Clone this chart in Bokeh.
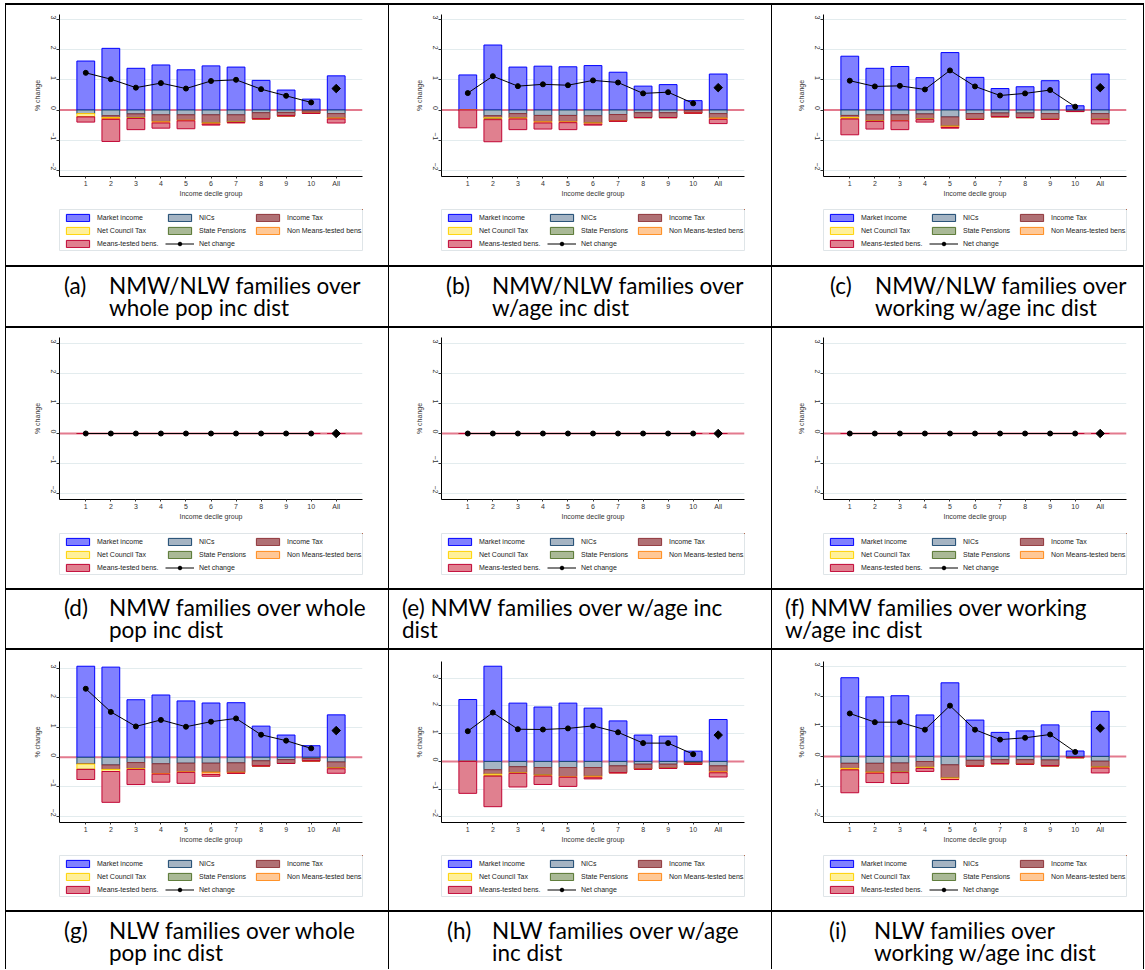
import math
from bokeh.plotting import figure
from bokeh.models import FactorRange, Range1d, FixedTicker, Span, Legend, LegendItem, Div, Spacer
from bokeh.layouts import row, column
from bokeh.embed import file_html
from bokeh.resources import INLINE

# ---------------- data ----------------
deciles = ["1", "2", "3", "4", "5", "6", "7", "8", "9", "10", "All"]
y_ticks = [-2, -1, 0, 1, 2, 3]
series_names = ["Market income", "NICs", "Income Tax", "Net Council Tax",
                "State Pensions", "Non Means-tested bens.", "Means-tested bens."]
net_name = "Net change"

# (a) NMW/NLW families over whole pop inc dist
a_market = [1.62, 2.04, 1.38, 1.49, 1.33, 1.46, 1.42, 0.98, 0.66, 0.36, 1.13]
a_nics = [-0.12, -0.19, -0.13, -0.16, -0.16, -0.16, -0.16, -0.09, -0.08, -0.03, -0.12]
a_itax = [0.0, -0.06, -0.12, -0.22, -0.18, -0.27, -0.24, -0.20, -0.11, -0.08, -0.15]
a_ctax = [-0.11, -0.03, -0.02, -0.01, -0.01, -0.01, 0.0, 0.0, 0.0, 0.0, -0.01]
a_spens = [0.0, 0.0, 0.0, 0.0, 0.0, 0.0, 0.0, 0.0, 0.0, 0.0, 0.0]
a_nonmt = [0.0, -0.03, -0.01, -0.04, -0.01, -0.03, -0.02, 0.0, 0.0, 0.0, -0.02]
a_mt = [-0.17, -0.73, -0.37, -0.17, -0.26, -0.03, 0.0, 0.0, 0.0, 0.0, -0.13]
a_net = [1.23, 1.02, 0.74, 0.89, 0.71, 0.96, 1.00, 0.69, 0.47, 0.25, 0.71]

# (b) NMW/NLW families over w/age inc dist
b_market = [1.16, 2.15, 1.42, 1.45, 1.43, 1.47, 1.25, 0.79, 0.84, 0.31, 1.19]
b_nics = [0.0, -0.19, -0.12, -0.18, -0.18, -0.19, -0.15, -0.09, -0.09, -0.02, -0.12]
b_itax = [0.0, -0.07, -0.14, -0.20, -0.20, -0.24, -0.21, -0.16, -0.16, -0.08, -0.15]
b_ctax = [0.0, -0.04, -0.01, -0.01, -0.01, 0.0, 0.0, 0.0, 0.0, 0.0, -0.01]
b_spens = [0.0, 0.0, 0.0, 0.0, 0.0, 0.0, 0.0, 0.0, 0.0, 0.0, 0.0]
b_nonmt = [0.0, -0.02, -0.03, -0.04, -0.03, -0.04, -0.01, 0.0, 0.0, 0.0, -0.03]
b_mt = [-0.59, -0.73, -0.35, -0.20, -0.23, -0.03, 0.0, 0.0, 0.0, 0.0, -0.14]
b_net = [0.56, 1.12, 0.79, 0.85, 0.82, 0.98, 0.91, 0.55, 0.59, 0.22, 0.74]

# (c) NMW/NLW families over working w/age inc dist
c_market = [1.78, 1.38, 1.44, 1.07, 1.90, 1.08, 0.71, 0.77, 0.97, 0.14, 1.19]
c_nics = [-0.18, -0.16, -0.16, -0.13, -0.23, -0.12, -0.10, -0.10, -0.12, -0.03, -0.12]
c_itax = [-0.07, -0.20, -0.20, -0.17, -0.31, -0.19, -0.12, -0.15, -0.19, -0.02, -0.19]
c_ctax = [-0.05, 0.0, 0.0, -0.01, 0.0, 0.0, 0.0, 0.0, 0.0, 0.0, 0.0]
c_spens = [0.0, 0.0, 0.0, 0.0, 0.0, 0.0, 0.0, 0.0, 0.0, 0.0, 0.0]
c_nonmt = [0.0, -0.02, 0.0, -0.01, -0.04, 0.0, 0.0, 0.0, 0.0, 0.0, -0.01]
c_mt = [-0.52, -0.25, -0.29, -0.08, -0.02, 0.0, 0.0, 0.0, 0.0, 0.0, -0.14]
c_net = [0.97, 0.78, 0.80, 0.68, 1.31, 0.78, 0.48, 0.55, 0.66, 0.11, 0.74]

# (d), (e), (f) NMW families: no change in any component
nmw_zero = [0.0, 0.0, 0.0, 0.0, 0.0, 0.0, 0.0, 0.0, 0.0, 0.0, 0.0]

# (g) NLW families over whole pop inc dist
g_market = [3.07, 3.04, 1.94, 2.10, 1.90, 1.83, 1.84, 1.05, 0.75, 0.39, 1.43]
g_nics = [-0.23, -0.26, -0.18, -0.22, -0.20, -0.20, -0.19, -0.12, -0.08, -0.04, -0.16]
g_itax = [0.0, -0.15, -0.20, -0.33, -0.29, -0.31, -0.32, -0.17, -0.13, -0.08, -0.20]
g_ctax = [-0.18, -0.07, -0.03, 0.0, 0.0, 0.0, 0.0, 0.0, 0.0, 0.0, 0.0]
g_spens = [0.0, 0.0, 0.0, 0.0, 0.0, 0.0, 0.0, 0.0, 0.0, 0.0, 0.0]
g_nonmt = [0.0, 0.0, 0.0, -0.02, -0.02, -0.07, -0.03, 0.0, 0.0, 0.0, -0.03]
g_mt = [-0.34, -1.04, -0.51, -0.27, -0.37, -0.06, 0.0, 0.0, 0.0, 0.0, -0.15]
g_net = [2.31, 1.53, 1.04, 1.26, 1.03, 1.20, 1.31, 0.76, 0.56, 0.30, 0.90]

# (h) NLW families over w/age inc dist
h_market = [2.23, 3.43, 2.10, 1.96, 2.10, 1.92, 1.46, 0.95, 0.91, 0.37, 1.51]
h_nics = [0.0, -0.30, -0.19, -0.22, -0.22, -0.22, -0.16, -0.10, -0.10, -0.04, -0.16]
h_itax = [0.0, -0.16, -0.22, -0.28, -0.33, -0.32, -0.24, -0.18, -0.15, -0.06, -0.21]
h_ctax = [0.0, -0.07, -0.02, 0.0, 0.0, 0.0, 0.0, 0.0, 0.0, 0.0, 0.0]
h_spens = [0.0, 0.0, 0.0, 0.0, 0.0, 0.0, 0.0, 0.0, 0.0, 0.0, 0.0]
h_nonmt = [0.0, 0.0, 0.0, -0.03, -0.02, -0.05, -0.01, 0.0, 0.0, 0.0, -0.04]
h_mt = [-1.15, -1.10, -0.49, -0.30, -0.33, -0.04, 0.0, 0.0, 0.0, 0.0, -0.15]
h_net = [1.09, 1.76, 1.16, 1.15, 1.19, 1.28, 1.05, 0.66, 0.66, 0.26, 0.95]

# (i) NLW families over working w/age inc dist
i_market = [2.62, 1.98, 2.02, 1.38, 2.45, 1.21, 0.80, 0.85, 1.05, 0.18, 1.50]
i_nics = [-0.23, -0.23, -0.22, -0.17, -0.28, -0.13, -0.11, -0.11, -0.12, -0.02, -0.16]
i_itax = [-0.17, -0.30, -0.31, -0.19, -0.44, -0.19, -0.13, -0.15, -0.19, -0.02, -0.20]
i_ctax = [-0.05, 0.0, 0.0, -0.04, 0.0, 0.0, 0.0, 0.0, 0.0, 0.0, 0.0]
i_spens = [0.0, 0.0, 0.0, 0.0, 0.0, 0.0, 0.0, 0.0, 0.0, 0.0, 0.0]
i_nonmt = [0.0, -0.03, -0.01, 0.0, -0.05, 0.0, 0.0, 0.0, 0.0, 0.0, -0.03]
i_mt = [-0.76, -0.31, -0.36, -0.10, 0.0, 0.0, 0.0, 0.0, 0.0, 0.0, -0.16]
i_net = [1.43, 1.14, 1.14, 0.89, 1.69, 0.89, 0.56, 0.62, 0.73, 0.15, 0.94]

y_upper = [3.16, 3.16, 3.16, 3.2, 3.2, 3.2, 3.23, 3.6, 3.16]

caption_labels = ["(a)", "(b)", "(c)", "(d)", None, None, "(g)", "(h)", "(i)"]
caption_lines = [
    ["NMW/NLW families over", "whole pop inc dist"],
    ["NMW/NLW families over", "w/age inc dist"],
    ["NMW/NLW families over", "working w/age inc dist"],
    ["NMW families over whole", "pop inc dist"],
    ["(e) NMW families over w/age inc", "dist"],
    ["(f) NMW families over working", "w/age inc dist"],
    ["NLW families over whole", "pop inc dist"],
    ["NLW families over w/age", "inc dist"],
    ["NLW families over", "working w/age inc dist"],
]

# ---------------- styling / geometry ----------------
fill_cols = ["#8080ff", "#a5b4c3", "#b07074", "#fff09a", "#a9b996", "#ffc896", "#e0808f"]
line_cols = ["#0000ff", "#1a476f", "#90353b", "#ffd200", "#55752f", "#ff8a1a", "#c10534"]
FONT = "Liberation Sans"

LEFT_PAD = 5
TOP_PAD = 3
col_w = [382, 382, 371]
col_left = [51, 50, 49]
frame_w = 308
row_h = [260, 260, 260]
row_top = [9, 9, 11]
frame_h = [162, 162, 161]
chart_bottom = [32, 33, 32]
leg_box_w = 303
leg_box_h = 41
cap_h = [59, 58, 57]
cap_label_x = [58, 57, 58, 58, None, None, 58, 58, 57]
cap_text_x = [103, 103, 103, 103, 13, 13, 103, 103, 102]
cap_top = [8, 7, 8]

# legend layout: three columns of entries (series index; 7 = net change)
legend_cols = [[0, 3, 6], [1, 4, 7], [2, 5]]
legend_col_x = [4, 106, 194]
# legend swatches come from renderers whose data sit outside the legend box's visible range
swatch_x = [5.0]
swatch_top = [5.0]
swatch_bottom = [4.0]
swatch_line_x = [5.0, 6.0]
swatch_line_y = [5.0, 5.0]


def make_panel(market, comps, net, w, left, top, fh, bot, ymax):
    right_b = w - left - frame_w
    p = figure(x_range=FactorRange(factors=deciles, range_padding=0.1),
               y_range=Range1d(-2.2, ymax), width=w, height=top + fh + bot,
               output_backend="svg", toolbar_location=None,
               min_border_left=left, min_border_right=right_b,
               min_border_top=top, min_border_bottom=bot,
               background_fill_color="white", border_fill_color="white",
               outline_line_color=None)
    p.add_layout(Span(location=0, dimension="width", line_color="#e37a8e",
                      line_width=2, level="underlay"))
    p.vbar(x=deciles, bottom=0, top=market, width=0.71, fill_color=fill_cols[0],
           line_color=line_cols[0], line_width=1)
    cum = [0.0] * len(deciles)
    for k, comp in enumerate(comps):
        low = [c + v for c, v in zip(cum, comp)]
        p.vbar(x=deciles, bottom=low, top=cum, width=0.71,
               fill_color=fill_cols[k + 1], line_color=line_cols[k + 1], line_width=1)
        cum = low
    p.line(x=deciles[:10], y=net[:10], line_color="black", line_width=1)
    p.scatter(x=deciles[:10], y=net[:10], marker="circle", size=5,
              fill_color="black", line_color="black")
    p.scatter(x=deciles[10:], y=net[10:], marker="square", angle=math.pi / 4, size=6,
              fill_color="black", line_color="black")

    p.xgrid.grid_line_color = None
    p.ygrid.grid_line_color = "#e3ecee"
    yax = p.yaxis[0]
    yax.ticker = FixedTicker(ticks=y_ticks)
    yax.major_label_orientation = -math.pi / 2
    yax.axis_label = "% change"
    xax = p.xaxis[0]
    xax.axis_label = "Income decile group"
    for ax in (xax, yax):
        ax.axis_line_color = "black"
        ax.axis_line_width = 1
        ax.major_tick_line_color = "#333333"
        ax.minor_tick_line_color = None
        ax.major_tick_in = 0
        ax.major_label_text_font = FONT
        ax.major_label_text_font_size = "7px"
        ax.major_label_text_color = "#333333"
        ax.axis_label_text_font = FONT
        ax.axis_label_text_font_size = "7px"
        ax.axis_label_text_font_style = "normal"
        ax.axis_label_text_color = "#333333"
    yax.major_tick_out = 3
    yax.major_label_standoff = 3
    yax.axis_label_standoff = 5
    xax.major_tick_out = 2
    xax.major_label_standoff = 1
    xax.axis_label_standoff = 0
    return p


def make_legend_fig(w, left, h):
    lf = figure(width=w, height=h, x_range=Range1d(0, 1), y_range=Range1d(0, 1),
                x_axis_type=None, y_axis_type=None, output_backend="svg",
                toolbar_location=None, min_border_left=left + 2,
                min_border_right=w - left - 2 - leg_box_w, min_border_top=1,
                min_border_bottom=h - 1 - leg_box_h, outline_line_color="#dfe5e8",
                background_fill_color="white", border_fill_color="white")
    rends = []
    for k in range(7):
        rends.append([lf.vbar(x=swatch_x, top=swatch_top, bottom=swatch_bottom, width=0.5,
                              fill_color=fill_cols[k], line_color=line_cols[k], line_width=1)])
    lr = lf.line(x=swatch_line_x, y=swatch_line_y, line_color="black", line_width=1)
    cr = lf.scatter(x=swatch_line_x, y=swatch_line_y, marker="circle", size=5,
                    fill_color="black", line_color="black")
    rends.append([lr, cr])
    names = series_names + [net_name]
    for col, x0 in zip(legend_cols, legend_col_x):
        items = [LegendItem(label=names[k], renderers=rends[k]) for k in col]
        n = len(col)
        lh = n * 9 + (n - 1) * 4
        leg = Legend(items=items, location=(x0, leg_box_h - 4 - lh), orientation="vertical",
                     padding=0, spacing=4, margin=0, border_line_color=None,
                     background_fill_alpha=0, label_text_font=FONT,
                     label_text_font_size="7px", label_text_color="#222222",
                     glyph_width=29, glyph_height=9, label_height=9, label_standoff=5)
        lf.add_layout(leg, "center")
    return lf


def make_caption(idx, w, h, top):
    lab = caption_labels[idx]
    lines = "<br>".join(caption_lines[idx])
    parts = ['<div style="position:relative;width:%dpx;height:%dpx;overflow:hidden;'
             'font-family:Lato;font-size:22.5px;line-height:22px;color:#000">' % (w, h)]
    if lab:
        parts.append('<div style="position:absolute;left:%dpx;top:%dpx;white-space:nowrap">%s</div>'
                     % (cap_label_x[idx], top, lab))
    parts.append('<div style="position:absolute;left:%dpx;top:%dpx;white-space:nowrap">%s</div>'
                 % (cap_text_x[idx], top, lines))
    parts.append('</div>')
    return Div(text="".join(parts), width=w, height=h, margin=0,
               styles={"overflow": "hidden", "background-color": "white"})


panels = [
    (a_market, [a_nics, a_itax, a_ctax, a_spens, a_nonmt, a_mt], a_net),
    (b_market, [b_nics, b_itax, b_ctax, b_spens, b_nonmt, b_mt], b_net),
    (c_market, [c_nics, c_itax, c_ctax, c_spens, c_nonmt, c_mt], c_net),
    (nmw_zero, [nmw_zero] * 6, nmw_zero),
    (nmw_zero, [nmw_zero] * 6, nmw_zero),
    (nmw_zero, [nmw_zero] * 6, nmw_zero),
    (g_market, [g_nics, g_itax, g_ctax, g_spens, g_nonmt, g_mt], g_net),
    (h_market, [h_nics, h_itax, h_ctax, h_spens, h_nonmt, h_mt], h_net),
    (i_market, [i_nics, i_itax, i_ctax, i_spens, i_nonmt, i_mt], i_net),
]

TABLE_W = sum(col_w) + 4


def hline():
    return Spacer(width=TABLE_W, height=2, margin=0, styles={"background-color": "#000"})


def vline(h):
    return Spacer(width=1, height=h, margin=0, styles={"background-color": "#000"})


rows = [hline()]
for r_i in range(3):
    cells = []
    caps = []
    for c_i in range(3):
        idx = r_i * 3 + c_i
        m, comps, net = panels[idx]
        chart = make_panel(m, comps, net, col_w[c_i], col_left[c_i], row_top[r_i],
                           frame_h[r_i], chart_bottom[r_i], y_upper[idx])
        leg_h = row_h[r_i] - (row_top[r_i] + frame_h[r_i] + chart_bottom[r_i])
        legf = make_legend_fig(col_w[c_i], col_left[c_i], leg_h)
        cells.append(column(chart, legf, spacing=0))
        caps.append(make_caption(idx, col_w[c_i], cap_h[r_i], cap_top[r_i]))
    rows.append(row(vline(row_h[r_i]), cells[0], vline(row_h[r_i]), cells[1],
                    vline(row_h[r_i]), cells[2], vline(row_h[r_i]), spacing=0))
    rows.append(hline())
    rows.append(row(vline(cap_h[r_i]), caps[0], vline(cap_h[r_i]), caps[1],
                    vline(cap_h[r_i]), caps[2], vline(cap_h[r_i]), spacing=0))
    if r_i < 2:
        rows.append(hline())

table = column(*rows, spacing=0)
layout = column(Spacer(width=LEFT_PAD + TABLE_W, height=TOP_PAD, margin=0),
                row(Spacer(width=LEFT_PAD, height=10, margin=0), table, spacing=0),
                spacing=0)
open("out.html", "w").write(file_html(layout, INLINE, title="Distributional impact"))
